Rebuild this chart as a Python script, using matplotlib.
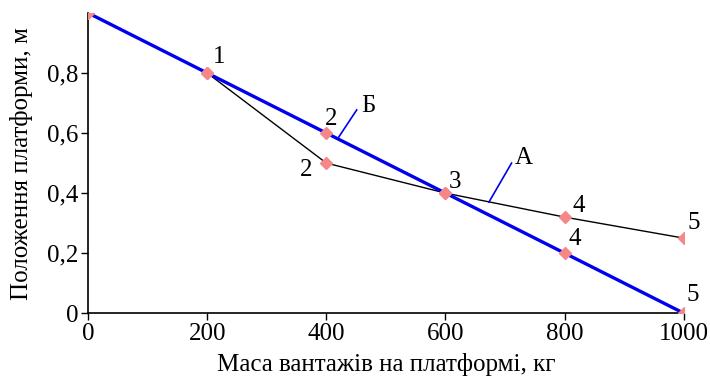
import matplotlib.pyplot as plt
from matplotlib.ticker import FuncFormatter

plt.rcParams['font.family'] = ['Liberation Serif', 'DejaVu Serif']

# line B (blue) - straight
massB = [0, 200, 400, 600, 800, 1000]
posB = [1.0, 0.8, 0.6, 0.4, 0.2, 0.0]
# line A (black)
massA = [200, 400, 600, 800, 1000]
posA = [0.8, 0.5, 0.4, 0.32, 0.25]

# point numbers: (text, x, y)
point_labels = [
    ('1', 209, 0.815), ('2', 398, 0.61), ('2', 356, 0.44), ('3', 606, 0.40),
    ('4', 814, 0.32), ('4', 806, 0.21), ('5', 1006, 0.265), ('5', 1004, 0.025),
]

fig = plt.figure(figsize=(7.1, 3.81), dpi=100)
ax = fig.add_axes([0.124, 0.178, 0.839, 0.788])

ax.plot(massA, posA, color='black', lw=1.0, zorder=2)
ax.plot(massB, posB, color='#0000ee', lw=2.4, zorder=3)
ax.plot(massA, posA, ls='none', marker='D', ms=6.5, color='#f58787', zorder=4)
ax.plot(massB, posB, ls='none', marker='D', ms=6.5, color='#f58787', zorder=4)

for t, x, y in point_labels:
    ax.text(x, y, t, fontsize=18, ha='left', va='bottom')

# leader lines with letters
ax.plot([421, 451], [0.587, 0.677], color='#0000ee', lw=1.2)
ax.text(458, 0.655, 'Б', fontsize=18, ha='left', va='bottom')
ax.plot([673, 711], [0.37, 0.50], color='#0000ee', lw=1.2)
ax.text(716, 0.48, 'А', fontsize=18, ha='left', va='bottom')

ax.set_xlim(0, 1000)
ax.set_ylim(0, 1.0)
ax.set_xticks([0, 200, 400, 600, 800, 1000])
ax.set_yticks([0, 0.2, 0.4, 0.6, 0.8])
ax.yaxis.set_major_formatter(FuncFormatter(lambda v, p: ('%g' % v).replace('.', ',')))
ax.tick_params(direction='out', length=5, width=1, labelsize=18, color='black', pad=2)
ax.spines['top'].set_visible(False)
ax.spines['right'].set_visible(False)
for s in ['left', 'bottom']:
    ax.spines[s].set_linewidth(1.2)

ax.set_xlabel('Маса вантажів на платформі, кг', fontsize=18, labelpad=6)
ax.set_ylabel('Положення платформи, м', fontsize=18, labelpad=10)

fig.savefig('out.png', dpi=100)
